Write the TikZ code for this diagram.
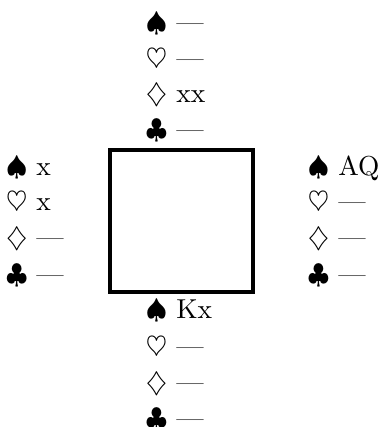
\documentclass[tikz,border=0pt]{standalone}
\begin{document}
\begin{tikzpicture}[x=0.365pt,y=-0.365pt,
  hand/.style={anchor=base west,inner sep=0pt,outer sep=0pt},
  tablebox/.style={draw,line width=1.4pt,inner sep=0pt,minimum width=52.2pt,minimum height=51.83pt}]
\useasboundingbox (0,0) rectangle (383,427);
\node[tablebox] (table) at (181.5,221) {};
% North
\node[hand] (n1) at (146,31) {$\spadesuit$ ---};
\node[hand] (n2) at (146,67) {$\heartsuit$ ---};
\node[hand] (n3) at (146,102) {$\diamondsuit$ xx};
\node[hand] (n4) at (146,138) {$\clubsuit$ ---};
% West
\node[hand] (w1) at (6,175) {$\spadesuit$ x};
\node[hand] (w2) at (6,210) {$\heartsuit$ x};
\node[hand] (w3) at (6,246) {$\diamondsuit$ ---};
\node[hand] (w4) at (6,283) {$\clubsuit$ ---};
% East
\node[hand] (e1) at (308,175) {$\spadesuit$ AQ};
\node[hand] (e2) at (308,210) {$\heartsuit$ ---};
\node[hand] (e3) at (308,246) {$\diamondsuit$ ---};
\node[hand] (e4) at (308,283) {$\clubsuit$ ---};
% South
\node[hand] (s1) at (146,318) {$\spadesuit$ Kx};
\node[hand] (s2) at (146,355) {$\heartsuit$ ---};
\node[hand] (s3) at (146,391) {$\diamondsuit$ ---};
\node[hand] (s4) at (146,427) {$\clubsuit$ ---};
\end{tikzpicture}
\end{document}
